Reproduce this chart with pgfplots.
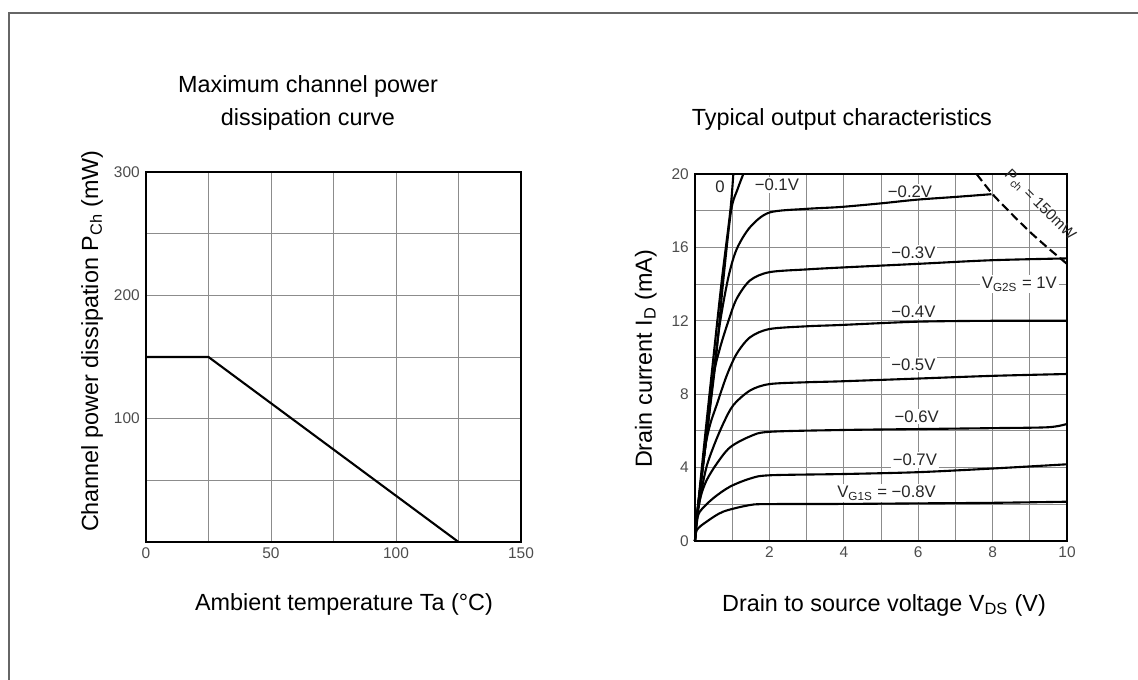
\documentclass[border=0pt]{standalone}
\usepackage{fontspec}
\setmainfont{Liberation Sans}
\usepackage{pgfplots}
\pgfplotsset{compat=1.18}
\pgfplotsset{ds/.style={
  scale only axis,
  anchor=south west,
  axis line style={black, line width=0.9pt},
  grid=major,
  grid style={black!45, line width=0.5pt},
  major tick length=0pt,
  tick label style={font=\fontsize{8.8}{10}\selectfont, text=black!70},
  label style={font=\fontsize{13.3}{16}\selectfont},
  title style={font=\fontsize{13.3}{18.8}\selectfont, inner sep=0pt},
  /pgf/number format/assume math mode=true,
}}
\tikzset{crv/.style={black, line width=1.2pt, smooth},
  lab/.style={font=\fontsize{9.5}{10}\selectfont, text=black!85, fill=white, inner sep=1pt}}
\begin{document}
\begin{tikzpicture}
\useasboundingbox (0,0) rectangle (22.76cm,13.6cm);
\draw[black!60, line width=0.6pt] (0.18cm,0) -- (0.18cm,13.34cm) -- (22.76cm,13.34cm);

% ---------------- left chart ----------------
\begin{axis}[ds,
  at={(2.92cm,2.76cm)}, width=7.5cm, height=7.4cm,
  xmin=0, xmax=150, ymin=0, ymax=300,
  xtick={0,25,...,150}, xticklabels={0,,50,,100,,150},
  ytick={0,50,...,300}, yticklabels={,,100,,200,,300},
  xlabel={Ambient temperature Ta (°C)},
  ylabel={Channel power dissipation P\textsubscript{Ch} (mW)},
  xlabel style={at={(axis description cs:0.528,-0.184)}, anchor=base},
  ylabel style={at={(axis description cs:-0.144,0.543)}, anchor=center},
  title={Maximum channel power\\dissipation curve},
  title style={align=center, at={(axis description cs:0.432,1.082)}, anchor=south},
]
\addplot[black, line width=1.2pt] coordinates {(0,150) (25,150) (125,0)};
\end{axis}

% ---------------- right chart ----------------
\begin{axis}[ds, clip=false,
  at={(13.9cm,2.78cm)}, width=7.44cm, height=7.34cm,
  xmin=0, xmax=10, ymin=0, ymax=20,
  xtick={0,...,10}, xticklabels={,,2,,4,,6,,8,,10},
  ytick={0,2,...,20}, yticklabels={0,,4,,8,,12,,16,,20},
  xlabel={Drain to source voltage V\textsubscript{DS} (V)},
  ylabel={Drain current I\textsubscript{D} (mA)},
  xlabel style={at={(axis description cs:0.508,-0.191)}, anchor=base},
  ylabel style={at={(axis description cs:-0.132,0.496)}, anchor=center},
  title={Typical output characteristics},
  title style={at={(axis description cs:0.395,1.104)}, anchor=base},
]
% labels first, so that their white boxes break only the grid
\node[lab] at (axis cs:0.67,19.3) {0};
\node[lab] at (axis cs:2.2,19.4) {−0.1V};
\node[lab] at (axis cs:5.78,19.05) {−0.2V};
\node[lab] at (axis cs:5.87,15.7) {−0.3V};
\node[lab] at (axis cs:5.87,12.5) {−0.4V};
\node[lab] at (axis cs:5.87,9.6) {−0.5V};
\node[lab] at (axis cs:5.96,6.77) {−0.6V};
\node[lab] at (axis cs:5.91,4.41) {−0.7V};
\node[lab] at (axis cs:5.15,2.6) {V\textsubscript{G1S} = −0.8V};
\node[lab] at (axis cs:8.72,14.0) {V\textsubscript{G2S} = 1V};
\node[lab, fill=none, inner sep=0pt, font=\fontsize{8.8}{10}\selectfont, rotate=-45] at (axis cs:9.27,18.3) {P\textsubscript{ch} = 150mW};
% VG1S = 0 V
\addplot[crv] coordinates {(0,0) (0.05,1.3) (0.27,5.7) (0.49,9.9) (0.72,14.2) (0.95,18) (1.03,20)};
% -0.1 V
\addplot[crv] coordinates {(0,0) (0.05,1.3) (0.31,5.7) (0.56,9.9) (0.76,14.2) (0.97,18) (1.15,19.2) (1.3,20)};
% -0.2 V
\addplot[crv] coordinates {(0,0) (0.05,1.3) (0.31,5.7) (0.52,9.5) (0.68,12.0) (0.9,14.4) (1.12,15.9) (1.48,17.1) (2.0,17.9) (3,18.1) (3.9,18.2) (5,18.4) (5.96,18.6) (7,18.75) (7.97,18.9)};
% -0.3 V
\addplot[crv] coordinates {(0,0) (0.05,1.3) (0.28,5.2) (0.49,8.9) (0.67,10.5) (0.9,12.0) (1.12,13.2) (1.48,14.2) (2.0,14.65) (3,14.8) (3.9,14.9) (5.96,15.1) (7.97,15.3) (10,15.4)};
% -0.4 V
\addplot[crv] coordinates {(0,0) (0.05,1.3) (0.25,4.8) (0.4,6.3) (0.58,7.4) (0.85,9.0) (1.12,10.2) (1.48,11.1) (2.0,11.55) (3,11.7) (3.9,11.77) (5.96,11.95) (8,12.0) (10,12.0)};
% -0.5 V
\addplot[crv] coordinates {(0,0) (0.05,1.3) (0.28,3.8) (0.49,5.1) (0.76,6.4) (1.03,7.4) (1.48,8.2) (2.0,8.55) (3,8.65) (3.9,8.7) (5.96,8.85) (8,9.0) (10,9.1)};
% -0.6 V
\addplot[crv] coordinates {(0,0) (0.05,1.2) (0.15,2.4) (0.31,3.3) (0.58,4.2) (0.94,5.1) (1.48,5.7) (2.0,5.95) (4,6.05) (6,6.1) (8,6.15) (9.5,6.2) (10,6.38)};
% -0.7 V
\addplot[crv] coordinates {(0,0) (0.05,1.0) (0.13,1.6) (0.49,2.33) (0.94,2.96) (1.48,3.4) (2.0,3.58) (4,3.65) (6,3.75) (8,3.95) (10,4.18)};
% -0.8 V
\addplot[crv] coordinates {(0,0) (0.05,0.6) (0.31,1.05) (0.76,1.6) (1.48,1.96) (2.0,2.01) (4,2.02) (6,2.05) (8,2.08) (10,2.14)};
% Pch = 150 mW
\addplot[black, line width=1.2pt, dash pattern=on 5pt off 2.5pt, smooth] coordinates {(7.57,20) (8,18.9) (8.5,17.85) (9,16.85) (9.5,15.95) (10,15.1)};
\end{axis}
\end{tikzpicture}
\end{document}
